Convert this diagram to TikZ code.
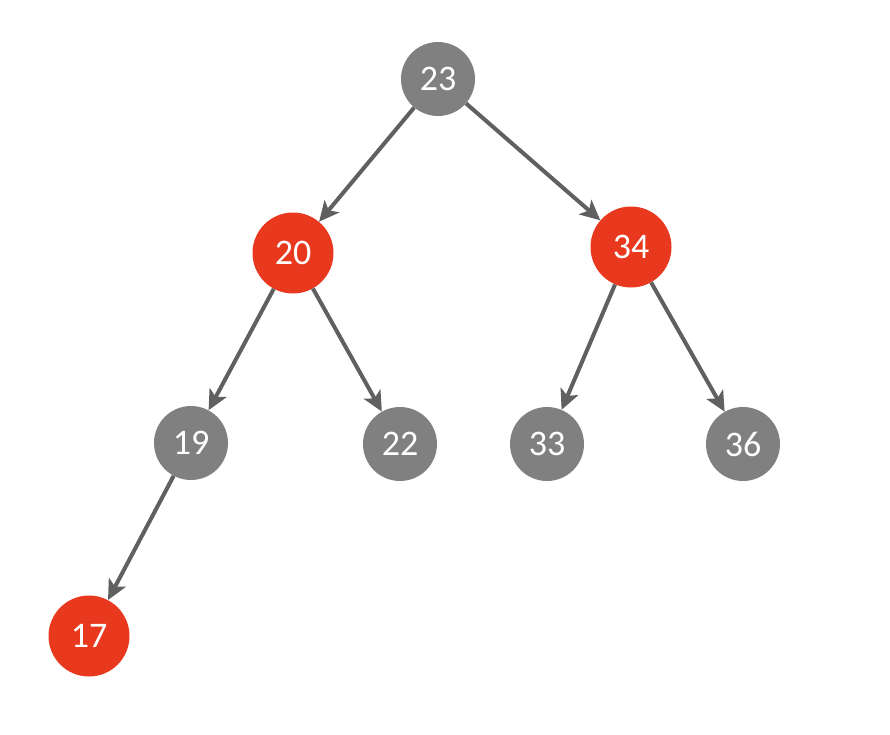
\documentclass[tikz,border=0pt]{standalone}
\usepackage{fontspec}
\setmainfont{Carlito}
\usetikzlibrary{arrows.meta}
\definecolor{ngray}{HTML}{808080}
\definecolor{nred}{HTML}{E8391F}
\definecolor{egray}{HTML}{606060}
\tikzset{
  bnode/.style={circle,fill=ngray,text=white,minimum size=74pt,inner sep=0pt,font=\fontsize{36}{40}\selectfont},
  rnode/.style={circle,fill=nred,text=white,minimum size=81pt,inner sep=0pt,font=\fontsize{36}{40}\selectfont},
  edge/.style={draw=egray,line width=4pt,-{Stealth[length=20pt,width=19pt,inset=5pt]}}
}
\begin{document}
\begin{tikzpicture}[x=1pt,y=-1pt]
\useasboundingbox (0,0) rectangle (890,734);
\node[bnode] (n23) at (438,79) {23};
\node[rnode] (n20) at (293,253) {20};
\node[rnode] (n34) at (631,247) {34};
\node[bnode] (n19) at (191,443) {19};
\node[bnode] (n22) at (400,444) {22};
\node[bnode] (n33) at (547,444) {33};
\node[bnode] (n36) at (743,444) {36};
\node[rnode] (n17) at (89,636) {17};
\draw[edge] (n23) -- (n20);
\draw[edge] (n23) -- (n34);
\draw[edge] (n20) -- (n19);
\draw[edge] (n20) -- (n22);
\draw[edge] (n34) -- (n33);
\draw[edge] (n34) -- (n36);
\draw[edge] (n19) -- (n17);
\end{tikzpicture}
\end{document}
